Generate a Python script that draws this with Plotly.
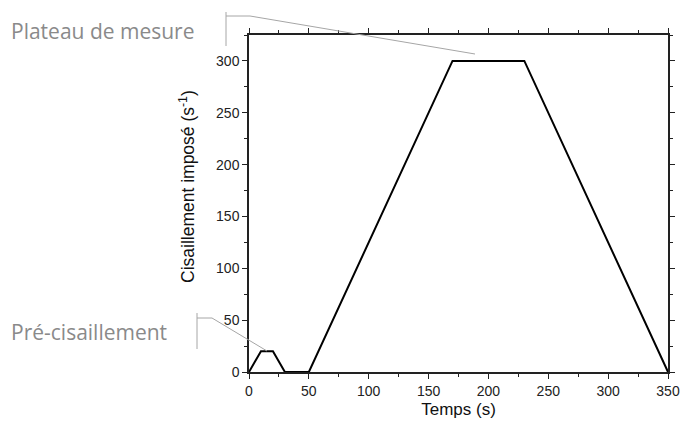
import plotly.graph_objects as go

temps = [0, 10, 20, 30, 50, 170, 230, 350]
cisaillement = [0, 20, 20, 0, 0, 300, 300, 0]
x_ticks = [0, 50, 100, 150, 200, 250, 300, 350]
y_ticks = [0, 50, 100, 150, 200, 250, 300]

W, H = 680, 423
L, R, T, B = 249, 12, 35, 51
PW, PH = W - L - R, H - T - B

def px(x):
    return (x - L) / PW

def py(y):
    return (H - B - y) / PH

fig = go.Figure()
fig.add_trace(go.Scatter(x=temps, y=cisaillement, mode="lines",
                         line=dict(color="black", width=2), showlegend=False))

axis_common = dict(showline=True, linecolor="#222", linewidth=1.5, mirror="ticks",
                   ticks="outside", ticklen=5, tickwidth=1.3, tickcolor="#222",
                   showgrid=False, zeroline=False, automargin=False,
                   tickfont=dict(family="Liberation Sans, Arial", size=14, color="#222"),
                   minor=dict(ticks="outside", ticklen=3, tickwidth=1.2, tickcolor="#222"))

fig.update_xaxes(range=[0, 350], tickvals=x_ticks,
                 title=dict(text="Temps (s)", font=dict(family="Liberation Sans, Arial", size=17, color="#111"), standoff=6),
                 **axis_common)
fig.update_xaxes(minor=dict(dtick=25, tick0=0))
fig.update_yaxes(range=[0, 325], tickvals=y_ticks, **axis_common)
fig.update_yaxes(minor=dict(dtick=25, tick0=0))

gray = "#a6a6a6"
shapes = []
# Plateau de mesure bracket
shapes.append(dict(type="line", xref="paper", yref="paper", x0=px(226), y0=py(12), x1=px(226), y1=py(46), line=dict(color=gray, width=1)))
shapes.append(dict(type="line", xref="paper", yref="paper", x0=px(226), y0=py(16), x1=px(250), y1=py(16), line=dict(color=gray, width=1)))
shapes.append(dict(type="line", xref="paper", yref="paper", x0=px(250), y0=py(16), x1=px(475), y1=py(54), line=dict(color=gray, width=1)))
# Pré-cisaillement bracket
shapes.append(dict(type="line", xref="paper", yref="paper", x0=px(197), y0=py(313), x1=px(197), y1=py(349), line=dict(color=gray, width=1)))
shapes.append(dict(type="line", xref="paper", yref="paper", x0=px(197), y0=py(318), x1=px(212), y1=py(318), line=dict(color=gray, width=1)))
shapes.append(dict(type="line", xref="paper", yref="paper", x0=px(212), y0=py(318), x1=px(267), y1=py(351), line=dict(color=gray, width=1)))

annotations = [
    dict(text="Plateau de mesure", xref="paper", yref="paper", x=px(9), y=py(31),
         xanchor="left", yanchor="middle", showarrow=False,
         font=dict(family="Open Sans", size=21, color="#8a8a8a")),
    dict(text="Pré-cisaillement", xref="paper", yref="paper", x=px(9), y=py(332),
         xanchor="left", yanchor="middle", showarrow=False,
         font=dict(family="Open Sans", size=21, color="#8a8a8a")),
    dict(text="Cisaillement imposé (s<sup>-1</sup>)", xref="paper", yref="paper",
         x=px(187), y=py(187), xanchor="center", yanchor="middle", textangle=-90,
         showarrow=False, font=dict(family="Liberation Sans, Arial", size=17.5, color="#111")),
]

fig.update_layout(width=W, height=H, margin=dict(l=L, r=R, t=T, b=B),
                  plot_bgcolor="white", paper_bgcolor="white",
                  shapes=shapes, annotations=annotations)

fig.write_html("out.html", config={"displayModeBar": False},
               post_script="document.body.style.margin='0';document.body.style.overflow='hidden';")
